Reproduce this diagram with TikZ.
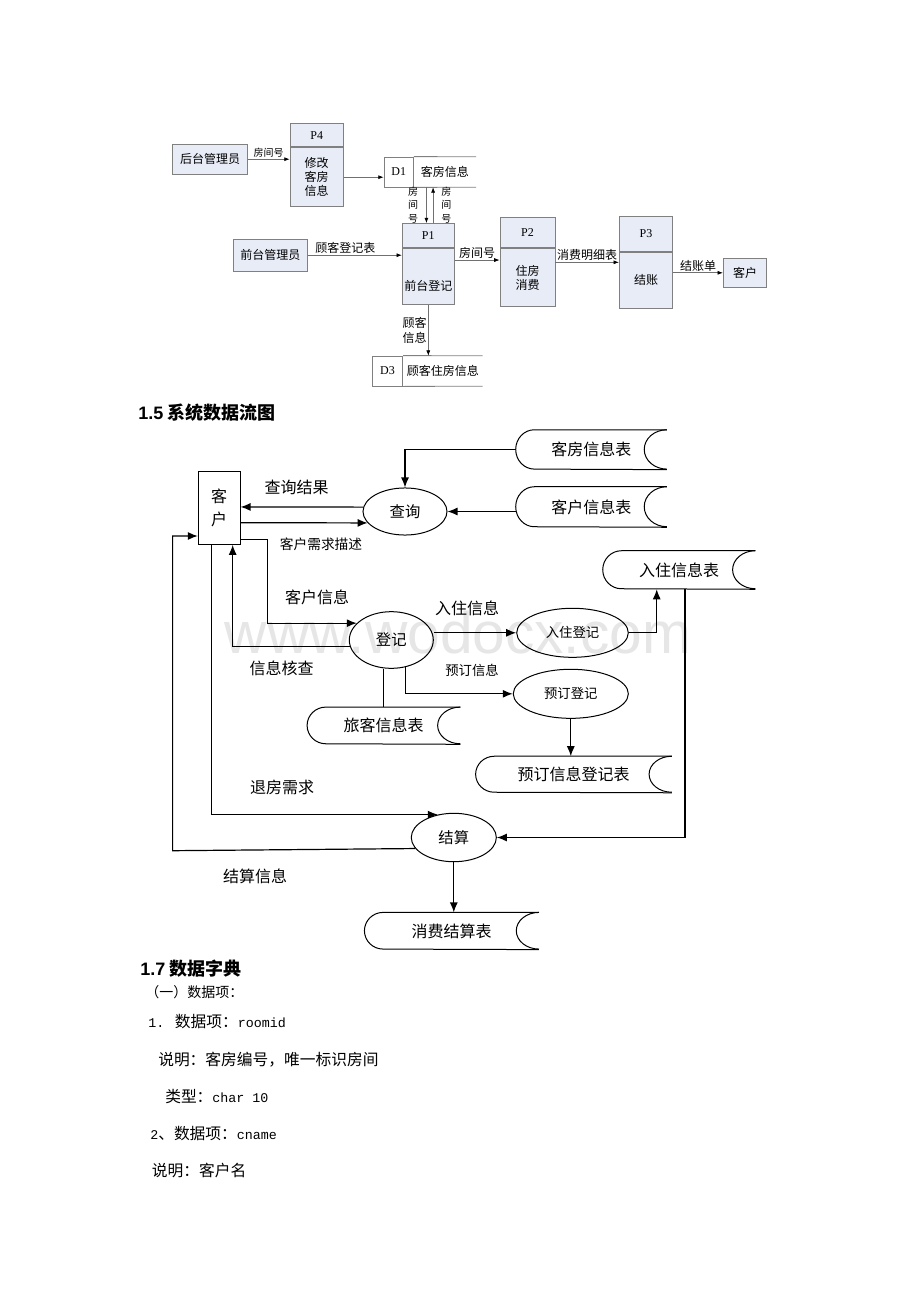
\documentclass[tikz,border=0pt]{standalone}
\usepackage{fontspec}
\setmainfont{Liberation Serif}
\newfontfamily\cjk{Noto Sans CJK SC}
\newfontfamily\sansf{Liberation Sans}
\newfontfamily\monof{Liberation Mono}
\usetikzlibrary{positioning,shapes.geometric,arrows.meta}

\definecolor{boxfill}{RGB}{232,236,247}
\definecolor{boxedge}{RGB}{128,128,128}
\definecolor{flowgray}{RGB}{112,112,112}
\definecolor{markgray}{RGB}{230,230,230}

\newcommand\fsz[2]{\fontsize{#1}{#2}\selectfont}
\newcommand\latm[1]{{\monof\fontsize{10}{12}\selectfont #1}}

% stored data outline: node, half height
\newcommand\drawstore[2]{%
  \draw[storeline] (#1.north east) -- ([xshift=14pt]#1.north west)
    arc[start angle=90, end angle=270, x radius=14pt, y radius=#2]
    -- (#1.south east);
  \draw[storeline] (#1.north east)
    arc[start angle=90, end angle=270, x radius=17pt, y radius=#2];
}

\begin{document}
\begin{tikzpicture}[x=0.75pt, y=-0.75pt,
  pbox/.style={draw=boxedge, fill=boxfill, line width=0.6pt, inner sep=0pt, align=center, font=\cjk\fsz{9}{10.6}},
  phead/.style={pbox, font=\fsz{9}{10}},
  dbox/.style={draw=boxedge, line width=0.6pt, inner sep=0pt, minimum height=22.5pt, font=\fsz{9}{10}},
  dname/.style={inner sep=0pt, minimum height=22.5pt, font=\cjk\fsz{9}{10}},
  dline/.style={draw=boxedge, line width=0.6pt},
  flowa/.style={draw=flowgray, line width=0.5pt, -{Latex[length=4pt,width=3pt,color=black]}},
  taga/.style={inner sep=1pt, font=\cjk\fsz{9}{10.6}},
  tags/.style={inner sep=1pt, align=center, font=\cjk\fsz{7.5}{9.8}},
  proc/.style={ellipse, draw, line width=0.75pt, inner sep=0pt, font=\cjk\fsz{11.5}{13}},
  store/.style={inner sep=0pt, font=\cjk\fsz{12}{14}},
  storeline/.style={line width=0.75pt},
  flowb/.style={line width=0.9pt, -{Latex[length=7.5pt,width=6pt]}},
  tagb/.style={inner sep=0pt, font=\cjk\fsz{12}{14}},
  heading/.style={anchor=west, inner sep=0pt, font=\cjk\bfseries\fsz{13.5}{16}},
  body/.style={anchor=west, inner sep=0pt, font=\cjk\fsz{11.8}{14}}
]
\fill[white] (0,0) rectangle (920,1302);
\node[font=\sansf\fsz{44}{44}, text=markgray, inner sep=0pt] (mark) at (458,633) {www.wodocx.com};

% room data and front desk
\node[pbox, minimum width=56pt, minimum height=22.3pt] (hmgr) at (210,159.2) {后台管理员};
\node[pbox, minimum width=40pt, minimum height=44.3pt] (p4) at (316.7,177.2) {修改\\客房\\信息};
\node[phead, minimum width=40pt, minimum height=17.5pt, above=0pt of p4] (p4h) {P4};
\node[dbox, minimum width=22pt] (d1i) at (398.7,172) {D1};
\node[dname, minimum width=46.3pt, right=0pt of d1i] (d1) {客房信息};
\node[pbox, minimum width=55.5pt, minimum height=23.8pt] (qmgr) at (270.3,255.2) {前台管理员};
\node[pbox, minimum width=39pt, minimum height=42pt] (p1) at (428.3,276.3) {\raisebox{-10.5pt}[0pt][0pt]{前台登记}};
\node[phead, minimum width=39pt, minimum height=18pt, above=0pt of p1] (p1h) {P1};
\node[pbox, minimum width=41.3pt, minimum height=43.8pt] (p2) at (527.5,277.5) {住房\\消费};
\node[phead, minimum width=41.3pt, minimum height=22.5pt, above=0pt of p2] (p2h) {P2};
\node[pbox, minimum width=40pt, minimum height=42pt] (p3) at (646,280.3) {结账};
\node[phead, minimum width=40pt, minimum height=26.3pt, above=0pt of p3] (p3h) {P3};
\node[pbox, minimum width=32.5pt, minimum height=21.8pt] (kehu) at (745,272.8) {客户};
\node[dbox, minimum width=22.8pt] (d3i) at (387.5,371) {D3};
\node[dname, minimum width=59.3pt, right=0pt of d3i] (d3) {顾客住房信息};
\draw[dline] (d1i.north east) -- (d1.north east) (d1i.south east) -- (d1.south east);
\draw[dline] (d3i.north east) -- (d3.north east) (d3i.south east) -- (d3.south east);

\draw[flowa] (hmgr.east) -- node[taga, above, font=\cjk\fsz{7.5}{9}] (l1) {房间号} (hmgr.east -| p4.west);
\draw[flowa] (p4.east) -- (p4.east -| d1i.west);
\draw[flowa] ([xshift=9.5pt]d1.south west) -- node[tags, left=5pt] (l2) {房\\间\\号} ([xshift=9.5pt]d1.south west |- p1h.north);
\draw[flowa] ([xshift=14.5pt]d1.south west |- p1h.north) -- node[tags, right=5pt] (l3) {房\\间\\号} ([xshift=14.5pt]d1.south west);
\draw[flowa] (qmgr.east) -- node[taga, above, pos=0.4] (l4) {顾客登记表} (qmgr.east -| p1.west);
\draw[flowa] ([yshift=12.2pt]p1.east) -- node[taga, above] (l5) {房间号} ([yshift=12.2pt]p1.east -| p2.west);
\draw[flowa] ([yshift=11.4pt]p2.east) -- node[taga, above] (l6) {消费明细表} ([yshift=11.4pt]p2.east -| p3.west);
\draw[flowa] (kehu.west -| p3.east) -- node[taga, above] (l7) {结账单} (kehu.west);
\draw[flowa] (p1.south) -- node[tags, left, font=\cjk\fsz{9}{11.7}] (l8) {顾客\\信息} (p1.south |- d3.north);

% system data flow
\node[heading] (h15) at (138,413) {{\sansf\bfseries 1.5} 系统数据流图};
\node[draw, line width=0.75pt, minimum width=31.3pt, minimum height=54.5pt, inner sep=0pt, align=center, font=\cjk\fsz{12}{17}] (kh) at (219.2,508) {客\\户};
\node[proc, minimum width=63pt, minimum height=35.3pt] (cx) at (405,511.5) {查询};
\node[store, minimum width=113pt, minimum height=29.5pt] (khb) at (591.3,449.7) {客房信息表};
\node[store, minimum width=113pt, minimum height=30pt] (khx) at (591.3,507) {客户信息表};
\node[proc, minimum width=63pt, minimum height=42.5pt] (dj) at (391.3,640) {登记};
\node[proc, minimum width=83.7pt, minimum height=36.8pt, font=\cjk\fsz{10}{12}] (rzdj) at (572.5,632.8) {入住登记};
\node[store, minimum width=114pt, minimum height=28.5pt] (rzb) at (679,570) {入住信息表};
\node[proc, minimum width=86.3pt, minimum height=36.8pt, font=\cjk\fsz{10}{12}] (yddj) at (570.8,693.8) {预订登记};
\node[store, minimum width=114.5pt, minimum height=27.5pt] (lkb) at (383.7,725.7) {旅客信息表};
\node[store, minimum width=146.7pt, minimum height=27pt] (ydb) at (573.7,774.5) {预订信息登记表};
\node[proc, minimum width=63.8pt, minimum height=36.3pt] (js) at (453.8,837.5) {结算};
\node[store, minimum width=130.5pt, minimum height=27.5pt] (xfb) at (451.7,931) {消费结算表};
\drawstore{khb}{14.75pt}
\drawstore{khx}{15pt}
\drawstore{rzb}{14.25pt}
\drawstore{lkb}{13.75pt}
\drawstore{ydb}{13.5pt}
\drawstore{xfb}{13.75pt}

\draw[flowb] (khb.west) -| (cx.north);
\draw[flowb] (khx.west |- cx.east) -- (cx.east);
\draw[flowb] (cx.174) -- ([yshift=0.8pt]kh.east);
\draw[flowb] ([yshift=-11pt]kh.east) -- (cx.197);
\draw[flowb] ([yshift=-23.5pt]kh.east) -- ++(26.7,0) |- (dj.154);
\draw[flowb] (dj.189) -| ([xshift=10.1pt]kh.south);
\draw[flowb] ([xshift=-5.9pt]kh.south) |- (js.125);
\draw[flowb] (js.196) -- (172.6,850.7) |- ([yshift=-21pt]kh.west);
\draw[flowb] (rzdj.west -| dj.east) -- (rzdj.west);
\draw[flowb] (rzdj.east) -| ([xshift=-16.7pt]rzb.south);
\draw[flowb] ([xshift=4.5pt]rzb.south) |- (js.east);
\draw[flowb] (dj.-63) |- (yddj.west);
\draw[storeline] (lkb.north |- dj.south) -- (lkb.north);
\draw[flowb] (yddj.south) -- (yddj.south |- ydb.north);
\draw[flowb] (js.south) -- (js.south |- xfb.north);

\node[tagb] (r1) at (296.7,487.3) {查询结果};
\node[tagb, font=\cjk\fsz{10.3}{12}] (r2) at (321,544) {客户需求描述};
\node[tagb] (r3) at (317,597.3) {客户信息};
\node[tagb] (r4) at (281.7,668.3) {信息核查};
\node[tagb] (r5) at (467,608) {入住信息};
\node[tagb, font=\cjk\fsz{10}{12}] (r6) at (472,670) {预订信息};
\node[tagb] (r7) at (282,787) {退房需求};
\node[tagb] (r8) at (255,876) {结算信息};

% data dictionary
\node[heading] (h17) at (140,968.3) {{\sansf\bfseries 1.7} 数据字典};
\node[body, font=\cjk\fsz{10.5}{12}] (b1) at (145,991.7) {（一）数据项：};
\node[body] (b2) at (148,1021.7) {\latm{1. }数据项：\latm{roomid}};
\node[body] (b3) at (158,1060) {说明：客房编号，唯一标识房间};
\node[body] (b4) at (165,1096.7) {类型：\latm{char 10}};
\node[body] (b5) at (150,1133.3) {\latm{2}、数据项：\latm{cname}};
\node[body] (b6) at (151.7,1170) {说明：客户名};
\end{tikzpicture}
\end{document}
